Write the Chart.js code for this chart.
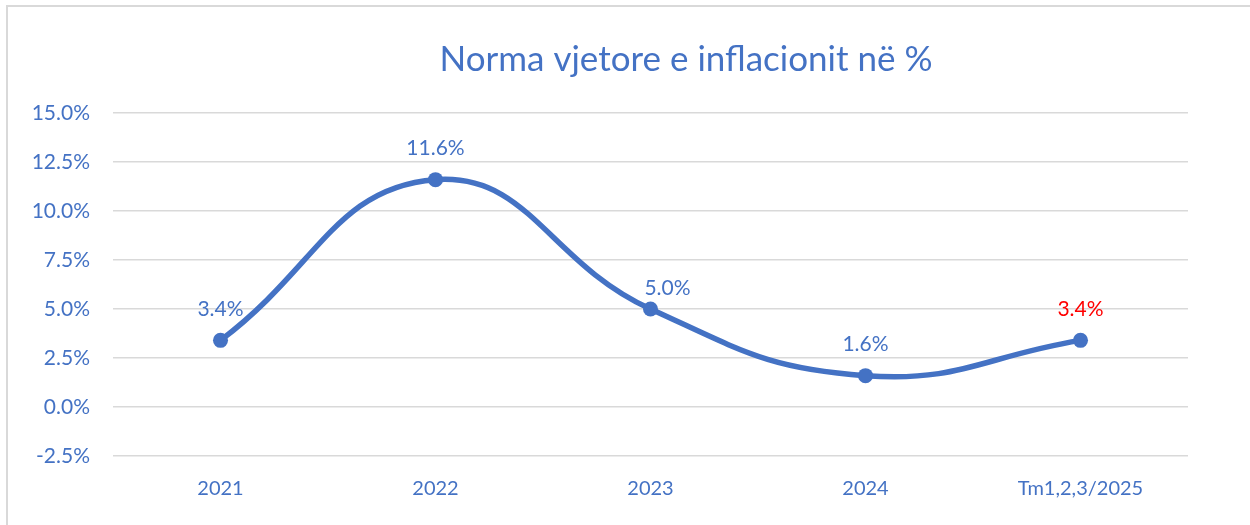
<!DOCTYPE html>
<html>
<head>
<meta charset="utf-8">
<script src="https://cdn.jsdelivr.net/npm/chart.js@4"></script>
<style>
  html, body { margin: 0; padding: 0; background: #ffffff; }
  #wrap { position: relative; width: 1250px; height: 525px; }
  #frame { position: absolute; left: 6px; top: 5px; width: 1244px; height: 520px;
           border-left: 2px solid #d9d9d9; border-top: 2px solid #d9d9d9; box-sizing: border-box; }
  canvas { position: absolute; left: 0; top: 0; }
</style>
</head>
<body>
<div id="wrap">
  <div id="frame"></div>
  <canvas id="c" width="1250" height="525"></canvas>
</div>
<script>
const categories = ["2021", "2022", "2023", "2024", "Tm1,2,3/2025"];
const inflation = [3.4, 11.6, 5.0, 1.6, 3.4];
const labelColors = ["#4472C4", "#4472C4", "#4472C4", "#4472C4", "#FF0000"];
const yMin = -2.5, yMax = 15.0, yStep = 2.5;
const titleText = "Norma vjetore e inflacionit në %";

const BLUE = "#4472C4";
const FONT = "Lato, 'Open Sans', sans-serif";

const titlePlugin = {
  id: "customTitle",
  afterDraw(chart) {
    const ctx = chart.ctx;
    ctx.save();
    ctx.font = "35px " + FONT;
    ctx.fillStyle = BLUE;
    ctx.textAlign = "center";
    ctx.textBaseline = "middle";
    ctx.fillText(titleText, 686, 60);
    ctx.restore();
  }
};

const dataLabels = {
  id: "dataLabels",
  afterDatasetsDraw(chart) {
    const ctx = chart.ctx;
    const meta = chart.getDatasetMeta(0);
    // label placement relative to each point (Excel nudged the 2023 label)
    const shift = { 2: { dx: 17, dy: -21 } };
    ctx.save();
    ctx.font = "21px " + FONT;
    ctx.textAlign = "center";
    ctx.textBaseline = "middle";
    meta.data.forEach((pt, i) => {
      const s = shift[i] || { dx: 0, dy: -31 };
      ctx.fillStyle = labelColors[i];
      ctx.fillText(inflation[i].toFixed(1) + "%", pt.x + s.dx, pt.y + s.dy);
    });
    ctx.restore();
  }
};

new Chart(document.getElementById("c"), {
  type: "line",
  data: {
    labels: categories,
    datasets: [{
      data: inflation,
      borderColor: BLUE,
      backgroundColor: BLUE,
      borderWidth: 5.5,
      pointRadius: 7.5,
      pointHoverRadius: 7.5,
      pointBackgroundColor: BLUE,
      pointBorderWidth: 0,
      tension: 0.45,
      fill: false
    }]
  },
  options: {
    responsive: false,
    animation: false,
    devicePixelRatio: 1,
    layout: { padding: { left: 0, right: 62, top: 113, bottom: 0 } },
    plugins: {
      legend: { display: false },
      tooltip: { enabled: false },
      title: { display: false }
    },
    scales: {
      x: {
        offset: true,
        grid: { display: false, drawTicks: false },
        border: { display: false },
        ticks: { color: BLUE, font: { family: FONT, size: 20 }, padding: 21, maxRotation: 0 },
        afterFit(scale) { scale.height = 69; }
      },
      y: {
        min: yMin,
        max: yMax,
        grid: { color: "#d9d9d9", lineWidth: 1.5, drawTicks: false },
        border: { display: false },
        ticks: {
          stepSize: yStep,
          color: BLUE,
          font: { family: FONT, size: 21 },
          padding: 23,
          callback: v => v.toFixed(1) + "%"
        },
        afterFit(scale) { scale.width = 113; }
      }
    }
  },
  plugins: [dataLabels, titlePlugin]
});
</script>
</body>
</html>
